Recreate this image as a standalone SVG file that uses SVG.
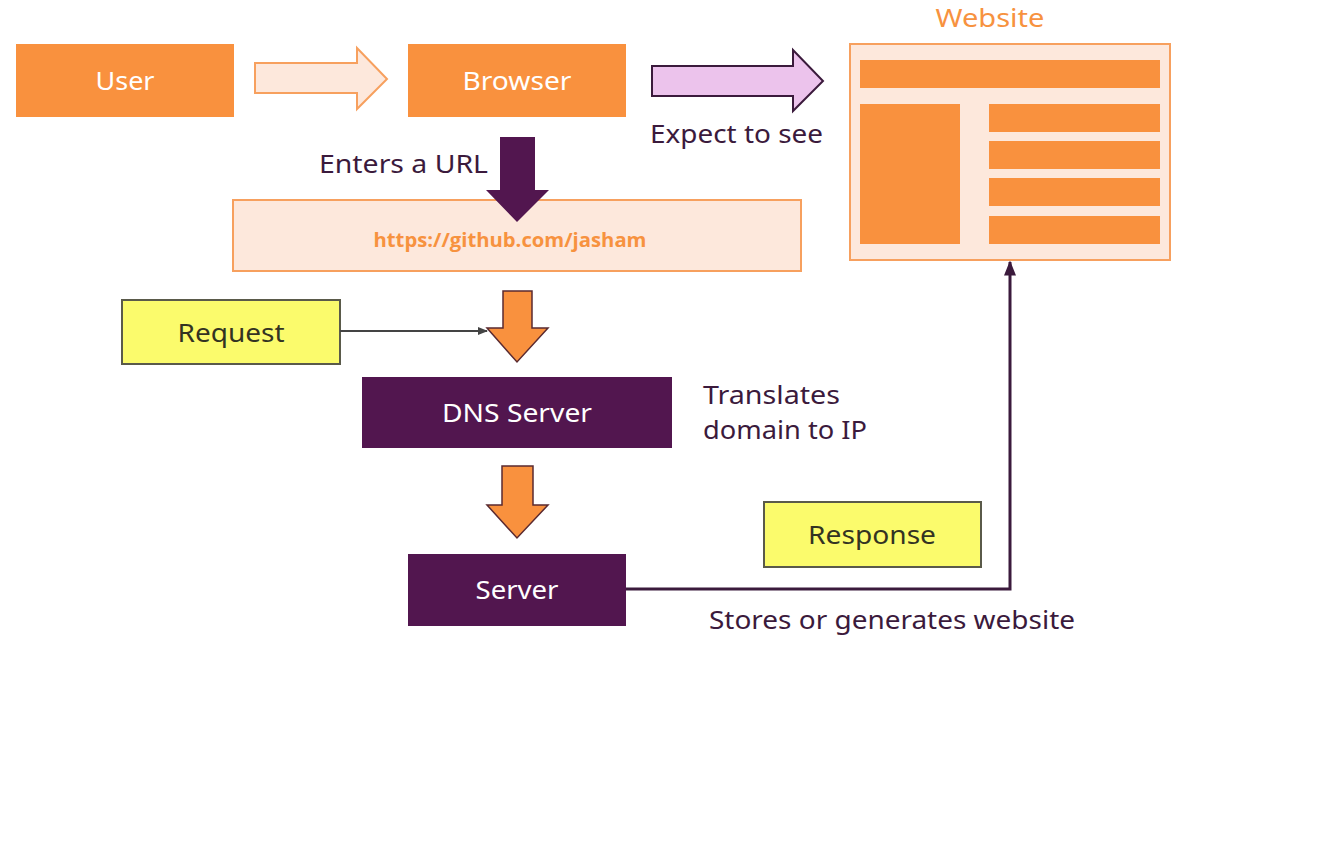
<svg xmlns="http://www.w3.org/2000/svg" width="1329" height="849" viewBox="0 0 1329 849">
<defs>
<style>
.orange{fill:#f9913e}
.peach{fill:#fde8dc;stroke:#f7a05e;stroke-width:2}
.purple{fill:#52164f}
.yellow{fill:#fbfb6c;stroke:#5a5a4a;stroke-width:2}
.wt{font-family:"Noto Sans",Lato,sans-serif;font-size:25px;fill:#ffffff;text-anchor:middle}
.dt{font-family:"Noto Sans",Lato,sans-serif;font-size:25px;fill:#3b1a3c}
.yt{font-family:"Noto Sans",Lato,sans-serif;font-size:25px;fill:#333322;text-anchor:middle}
.oarrow{fill:#f9913e;stroke:#5a2a30;stroke-width:1.5}
</style>
<marker id="ah" viewBox="0 0 10 10" refX="9" refY="5" markerWidth="5" markerHeight="5" orient="auto">
<path d="M0,1 L10,5 L0,9 Z" fill="#444"/>
</marker>
<marker id="ahp" viewBox="0 0 10 10" refX="9" refY="5" markerWidth="5" markerHeight="5" orient="auto">
<path d="M0,1 L10,5 L0,9 Z" fill="#3b1a3c"/>
</marker>
</defs>
<rect width="1329" height="849" fill="#ffffff"/>

<g id="user">
<rect x="16" y="44" width="218" height="73" class="orange"/>
<text x="125" y="90" class="wt" textLength="59" lengthAdjust="spacingAndGlyphs">User</text>
</g>

<g id="browser">
<rect x="408" y="44" width="218" height="73" class="orange"/>
<text x="517" y="90" class="wt" textLength="109" lengthAdjust="spacingAndGlyphs">Browser</text>
</g>

<g id="website">
<text x="990" y="27" font-family="'Noto Sans',Lato,sans-serif" font-size="25" fill="#f7923f" text-anchor="middle" textLength="109" lengthAdjust="spacingAndGlyphs">Website</text>
<rect x="850" y="44" width="320" height="216" class="peach"/>
<rect x="860" y="60" width="300" height="28" class="orange"/>
<rect x="860" y="104" width="100" height="140" class="orange"/>
<rect x="989" y="104" width="171" height="28" class="orange"/>
<rect x="989" y="141" width="171" height="28" class="orange"/>
<rect x="989" y="178" width="171" height="28" class="orange"/>
<rect x="989" y="216" width="171" height="28" class="orange"/>
</g>

<g id="url">
<rect x="233" y="200" width="568" height="71" class="peach"/>
<text x="510" y="247" font-family="'Open Sans','Noto Sans',sans-serif" font-weight="bold" font-size="20" fill="#f7923f" text-anchor="middle" textLength="273" lengthAdjust="spacingAndGlyphs">https://github.com/jasham</text>
</g>

<g id="request">
<rect x="122" y="300" width="218" height="64" class="yellow"/>
<text x="231" y="342" class="yt" textLength="107" lengthAdjust="spacingAndGlyphs">Request</text>
</g>

<g id="dns">
<rect x="362" y="377" width="310" height="71" class="purple"/>
<text x="517" y="422" class="wt" textLength="150" lengthAdjust="spacingAndGlyphs">DNS Server</text>
</g>

<g id="server">
<rect x="408" y="554" width="218" height="72" class="purple"/>
<text x="517" y="599" class="wt" textLength="83" lengthAdjust="spacingAndGlyphs">Server</text>
</g>

<g id="response">
<rect x="764" y="502" width="217" height="65" class="yellow"/>
<text x="872" y="544" class="yt" textLength="128" lengthAdjust="spacingAndGlyphs">Response</text>
</g>

<g id="labels">
<text x="650" y="143" class="dt" textLength="173" lengthAdjust="spacingAndGlyphs">Expect to see</text>
<text x="319" y="173" class="dt" textLength="169" lengthAdjust="spacingAndGlyphs">Enters a URL</text>
<text x="703" y="404" class="dt" textLength="137" lengthAdjust="spacingAndGlyphs">Translates</text>
<text x="703" y="439" class="dt" textLength="164" lengthAdjust="spacingAndGlyphs">domain to IP</text>
<text x="709" y="629" class="dt" textLength="366" lengthAdjust="spacingAndGlyphs">Stores or generates website</text>
</g>

<g id="connectors">
<path d="M255,63 L357,63 L357,48 L387,79 L357,109 L357,93 L255,93 Z" fill="#fde8dc" stroke="#f7a05e" stroke-width="2"/>
<path d="M652,66 L793,66 L793,50 L823,81 L793,111 L793,96 L652,96 Z" fill="#ecc3ec" stroke="#3b1a3c" stroke-width="2"/>
<path d="M500,137 L535,137 L535,190 L549,190 L517,222 L486,190 L500,190 Z" fill="#52164f"/>
<path d="M503,291 L532,291 L532,328 L548,328 L517,362 L487,328 L503,328 Z" class="oarrow"/>
<path d="M502,466 L533,466 L533,505 L548,505 L517,538 L487,505 L502,505 Z" class="oarrow"/>
<line x1="340" y1="331" x2="487" y2="331" stroke="#444" stroke-width="2" marker-end="url(#ah)"/>
<path d="M626,589 L1010,589 L1010,262" fill="none" stroke="#3b1a3c" stroke-width="3" marker-end="url(#ahp)"/>
</g>
</svg>
